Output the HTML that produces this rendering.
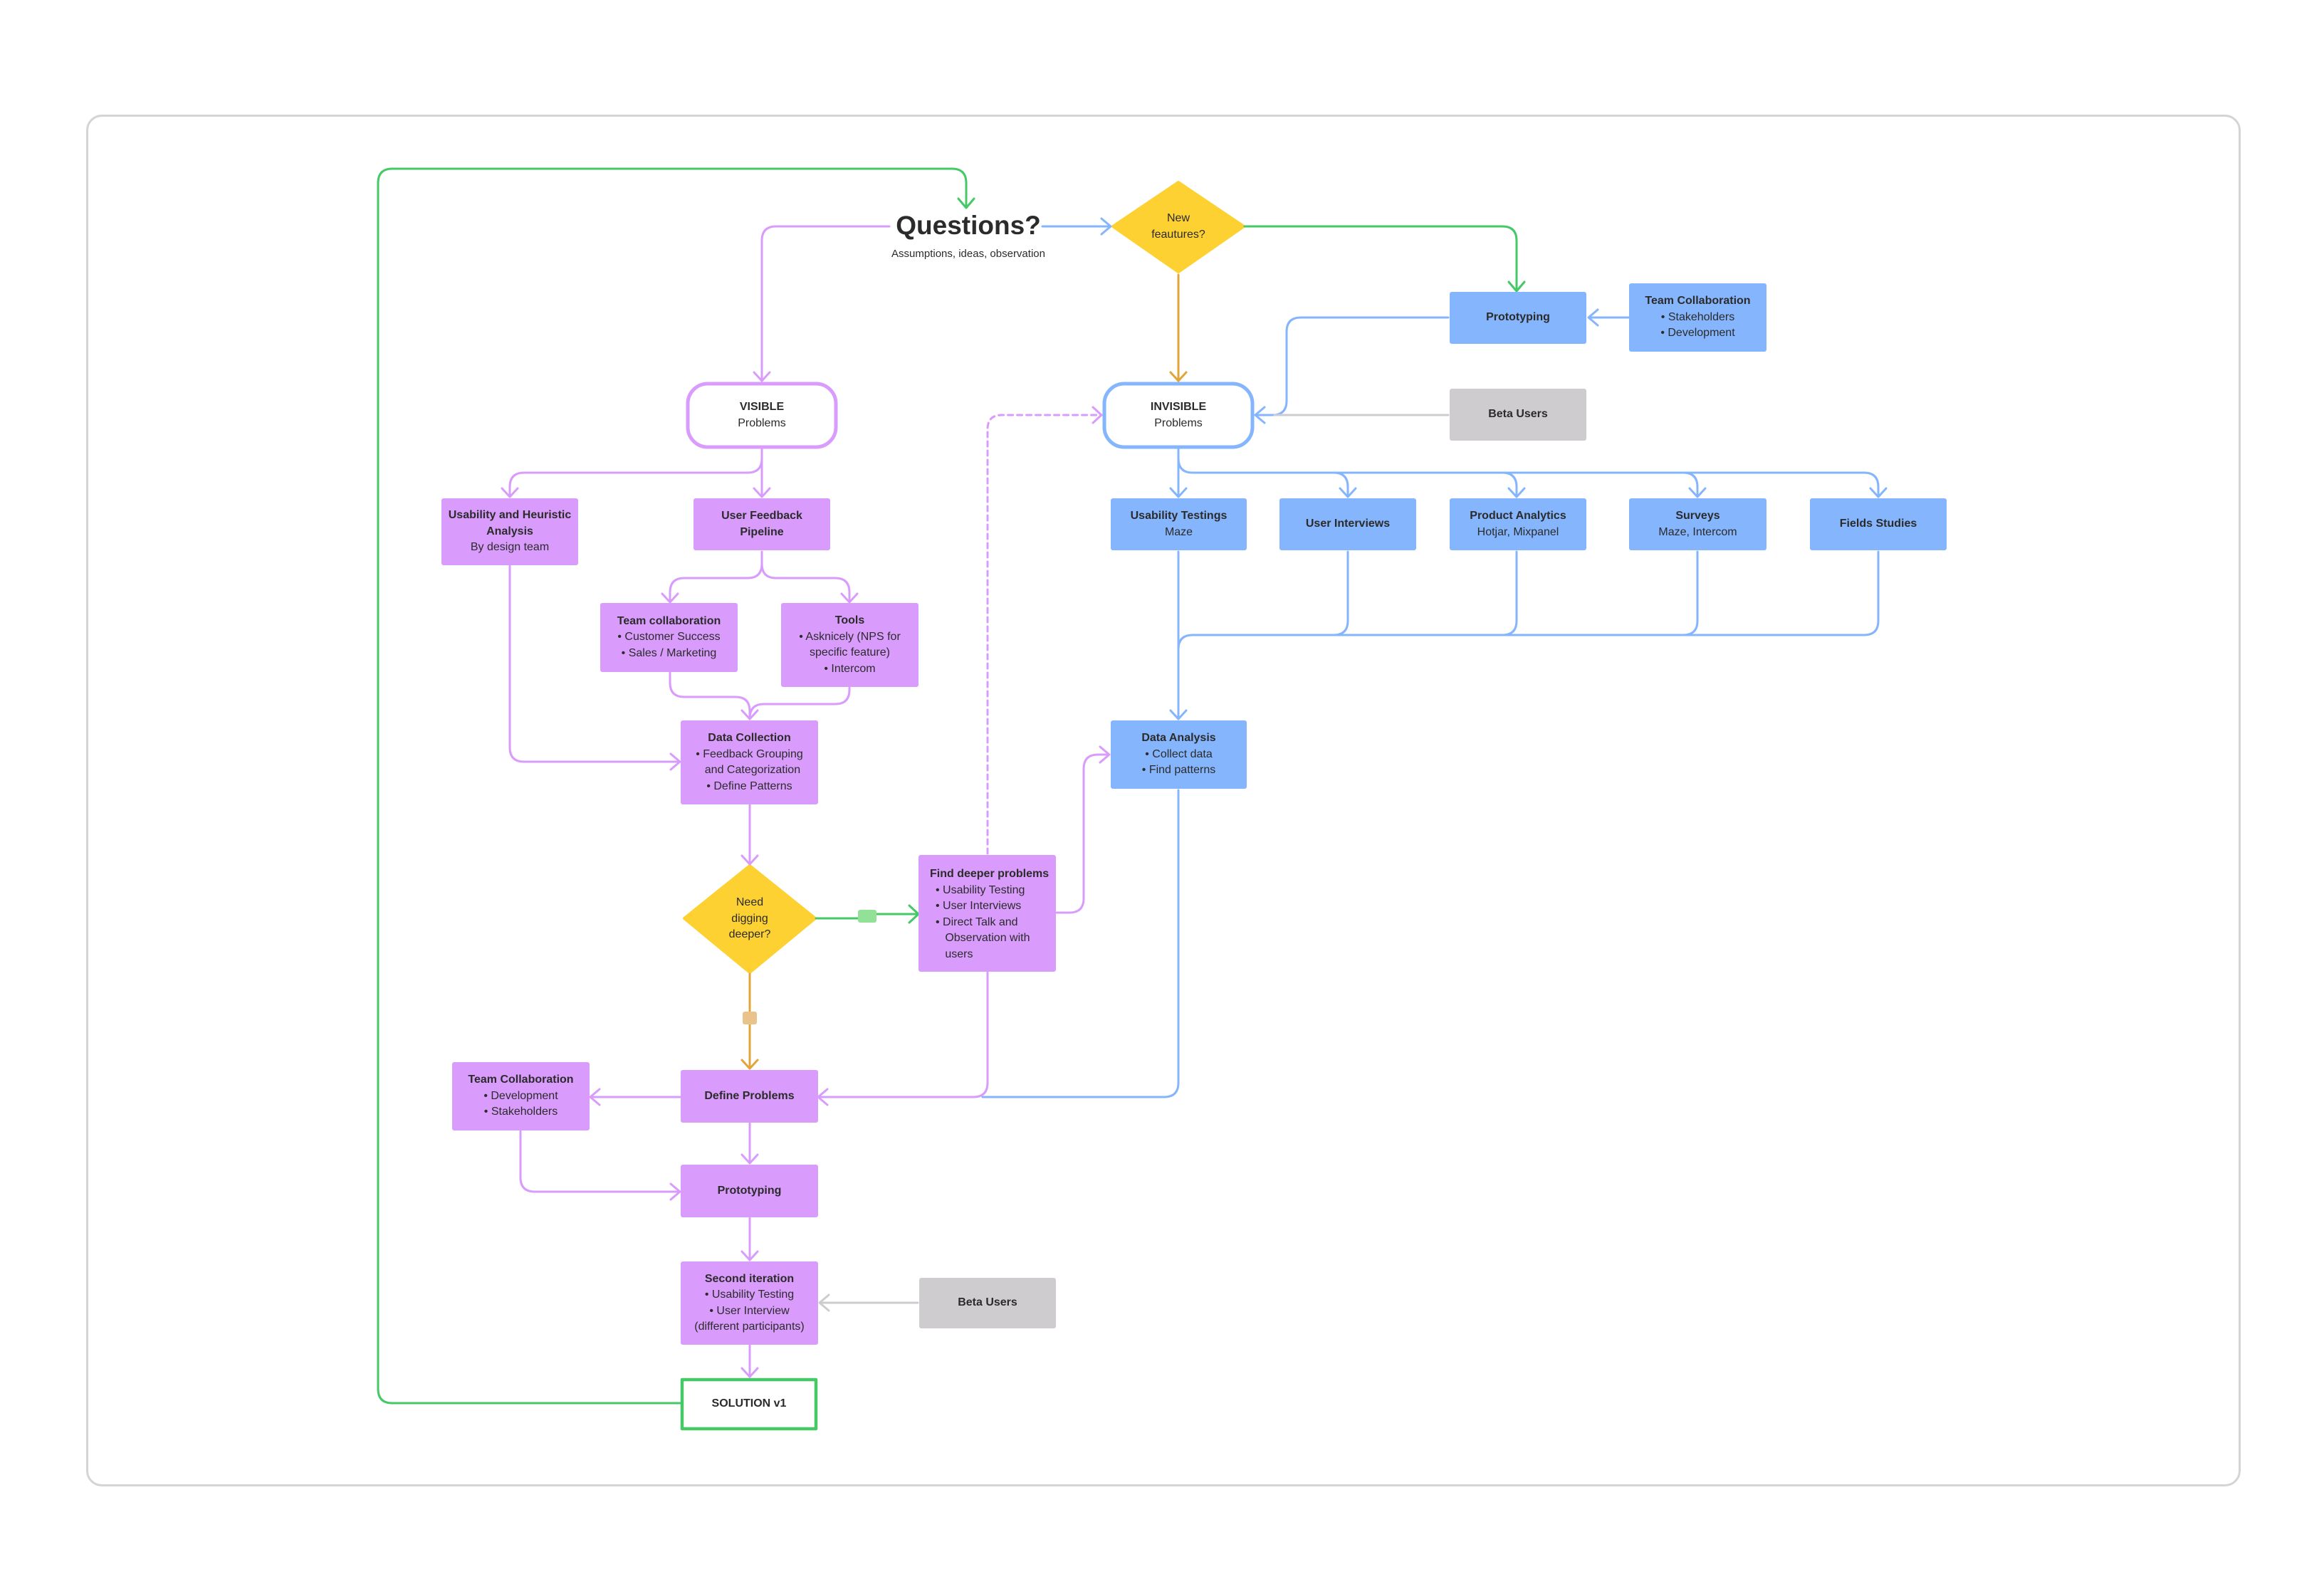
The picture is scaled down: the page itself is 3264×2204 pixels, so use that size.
<!DOCTYPE html>
<html><head><meta charset="utf-8">
<style>
html,body{margin:0;padding:0;background:#fff;}
body{width:3264px;height:2204px;position:relative;overflow:hidden;font-family:"Liberation Sans",sans-serif;color:#2b2b2b;}
.frame{position:absolute;left:121px;top:161px;width:3020px;height:1921px;border:3px solid #d4d4d6;border-radius:22px;}
svg{position:absolute;left:0;top:0;}
.b{position:absolute;display:flex;flex-direction:column;justify-content:center;align-items:center;text-align:center;font-size:16px;line-height:22.5px;border-radius:3px;box-sizing:border-box;}
.p{background:#d99cfc;}
.bl{background:#85b5fd;}
.g{background:#cfcccf;}
.b b{font-weight:bold;}
.lst{text-align:left;}
.q{position:absolute;font-weight:bold;font-size:37px;left:1180px;width:360px;text-align:center;top:296px;}
.qs{position:absolute;font-size:15px;left:1160px;width:400px;text-align:center;top:348px;}
.dtxt{position:absolute;text-align:center;font-size:16px;line-height:22.5px;}
</style></head><body>
<div class="frame"></div>
<svg width="3264" height="2204" viewBox="0 0 3264 2204" fill="none" stroke-width="3" stroke-linecap="round" stroke-linejoin="round">
<polygon points="1655,256 1747,318 1655,382 1563,318" fill="#fdd132" stroke="#fdd132" stroke-width="4"/>
<polygon points="1053,1216 1145,1290 1053,1366 961,1290" fill="#fdd132" stroke="#fdd132" stroke-width="4"/>
<rect x="966" y="539" width="208" height="89" rx="28" fill="#fff" stroke="#d99cfc" stroke-width="5"/>
<rect x="1551" y="539" width="208" height="89" rx="28" fill="#fff" stroke="#85b5fd" stroke-width="5"/>
<rect x="958" y="1938" width="188" height="69" fill="#fff" stroke="#45c866" stroke-width="4.5"/>

<g stroke="#45c866">
<path d="M956 1971 H551 Q531 1971 531 1951 V257 Q531 237 551 237 H1337 Q1357 237 1357 257 V290"/>
<path d="M1346 279 L1357 292 L1368 279"/>
<path d="M1748 318 H2110 Q2130 318 2130 338 V408"/>
<path d="M2119 396 L2130 409 L2141 396"/>
<path d="M1146 1290 H1218 M1218 1284 H1289"/>
<path d="M1277 1272 L1290 1284 L1277 1296"/>
</g>
<rect x="1205" y="1278" width="26" height="18" rx="3" fill="#93e197"/>
<g stroke="#e2a53a">
<path d="M1655 386 V535"/><path d="M1644 523 L1655 535 L1666 523"/>
<path d="M1053 1368 V1501"/><path d="M1042 1489 L1053 1501 L1064 1489"/>
</g>
<rect x="1043" y="1421" width="20" height="18" rx="3" fill="#eac38a"/>

<g stroke="#85b5fd">
<path d="M1464 318 H1559"/><path d="M1547 307 L1560 318 L1547 329"/>
<path d="M2288 446 H2232"/><path d="M2244 435 L2231 446 L2244 457"/>
<path d="M2034 446 H1827 Q1807 446 1807 466 V563 Q1807 583 1787 583 H1764"/>
<path d="M1776 572 L1763 583 L1776 594"/>
<path d="M1655 630 V697"/><path d="M1644 686 L1655 698 L1666 686"/>
<path d="M1655 644 Q1655 664 1675 664 H2618 Q2638 664 2638 684 V697"/>
<path d="M1873 664 Q1893 664 1893 684 V697 M2110 664 Q2130 664 2130 684 V697 M2364 664 Q2384 664 2384 684 V697"/>
<path d="M1882 686 L1893 698 L1904 686 M2119 686 L2130 698 L2141 686 M2373 686 L2384 698 L2395 686 M2627 686 L2638 698 L2649 686"/>
<path d="M1655 775 V1010"/><path d="M1644 998 L1655 1010 L1666 998"/>
<path d="M1893 775 V872 Q1893 892 1873 892 H1675 Q1655 892 1655 912"/>
<path d="M2130 775 V872 Q2130 892 2110 892 M2384 775 V872 Q2384 892 2364 892 M2638 775 V872 Q2638 892 2618 892 H1873"/>
<path d="M1655 1110 V1521 Q1655 1541 1635 1541 H1380"/>
</g>
<g stroke="#cfcccf">
<path d="M2034 583 H1790"/>
<path d="M1289 1830 H1152"/><path d="M1164 1819 L1151 1830 L1164 1841"/>
</g>

<g stroke="#d99cfc">
<path d="M1249 318 H1090 Q1070 318 1070 338 V535"/><path d="M1059 523 L1070 535 L1081 523"/>
<path d="M1070 630 V697"/><path d="M1059 686 L1070 698 L1081 686"/>
<path d="M1070 644 Q1070 664 1050 664 H736 Q716 664 716 684 V697"/><path d="M705 686 L716 698 L727 686"/>
<path d="M1070 775 V792 Q1070 812 1050 812 H961 Q941 812 941 832 V845"/><path d="M930 834 L941 846 L952 834"/>
<path d="M1070 792 Q1070 812 1090 812 H1173 Q1193 812 1193 832 V845"/><path d="M1182 834 L1193 846 L1204 834"/>
<path d="M941 945 V959 Q941 979 961 979 H1033 Q1053 979 1053 999 V1010"/>
<path d="M1193 966 V969 Q1193 989 1173 989 H1073 Q1053 989 1053 1009"/>
<path d="M1042 998 L1053 1010 L1064 998"/>
<path d="M716 795 V1050 Q716 1070 736 1070 H954"/><path d="M942 1059 L955 1070 L942 1081"/>
<path d="M1053 1130 V1214"/><path d="M1042 1202 L1053 1214 L1064 1202"/>
<path d="M1484 1282 H1502 Q1522 1282 1522 1262 V1080 Q1522 1060 1542 1060 H1557"/><path d="M1545 1049 L1558 1060 L1545 1071"/>
<path d="M1387 1366 V1521 Q1387 1541 1367 1541 H1150"/><path d="M1162 1530 L1149 1541 L1162 1552"/>
<path d="M956 1541 H830"/><path d="M842 1530 L829 1541 L842 1552"/>
<path d="M1053 1578 V1634"/><path d="M1042 1622 L1053 1634 L1064 1622"/>
<path d="M731 1589 V1654 Q731 1674 751 1674 H954"/><path d="M942 1663 L955 1674 L942 1685"/>
<path d="M1053 1711 V1770"/><path d="M1042 1758 L1053 1770 L1064 1758"/>
<path d="M1053 1890 V1934"/><path d="M1042 1922 L1053 1934 L1064 1922"/>
<path d="M1387 1199 V603 Q1387 583 1407 583 H1546" stroke-dasharray="7 6"/><path d="M1535 572 L1547 583 L1535 594"/>
</g>
</svg>

<div class="q">Questions?</div>
<div class="qs">Assumptions, ideas, observation</div>
<div class="dtxt" style="left:1595px;top:296px;width:120px;">New<br>feautures?</div>
<div class="dtxt" style="left:993px;top:1257px;width:120px;">Need<br>digging<br>deeper?</div>

<div class="b" style="left:966px;top:539px;width:208px;height:89px;"><b>VISIBLE</b><span>Problems</span></div>
<div class="b" style="left:1551px;top:539px;width:208px;height:89px;"><b>INVISIBLE</b><span>Problems</span></div>

<div class="b bl" style="left:2036px;top:410px;width:192px;height:73px;"><b>Prototyping</b></div>
<div class="b bl" style="left:2288px;top:398px;width:193px;height:96px;"><b>Team Collaboration</b><span>• Stakeholders</span><span>• Development</span></div>
<div class="b g" style="left:2036px;top:546px;width:192px;height:73px;"><b>Beta Users</b></div>

<div class="b bl" style="left:1560px;top:700px;width:191px;height:73px;"><b>Usability Testings</b><span>Maze</span></div>
<div class="b bl" style="left:1797px;top:700px;width:192px;height:73px;"><b>User Interviews</b></div>
<div class="b bl" style="left:2036px;top:700px;width:192px;height:73px;"><b>Product Analytics</b><span>Hotjar, Mixpanel</span></div>
<div class="b bl" style="left:2288px;top:700px;width:193px;height:73px;"><b>Surveys</b><span>Maze, Intercom</span></div>
<div class="b bl" style="left:2542px;top:700px;width:192px;height:73px;"><b>Fields Studies</b></div>
<div class="b bl" style="left:1560px;top:1012px;width:191px;height:96px;"><b>Data Analysis</b><span>• Collect data</span><span>• Find patterns</span></div>

<div class="b p" style="left:620px;top:700px;width:192px;height:94px;"><b>Usability and Heuristic</b><b>Analysis</b><span>By design team</span></div>
<div class="b p" style="left:974px;top:700px;width:192px;height:73px;"><b>User Feedback</b><b>Pipeline</b></div>
<div class="b p" style="left:843px;top:847px;width:193px;height:97px;"><b>Team collaboration</b><span>• Customer Success</span><span>• Sales / Marketing</span></div>
<div class="b p" style="left:1097px;top:847px;width:193px;height:118px;"><b>Tools</b><span>• Asknicely (NPS for</span><span>specific feature)</span><span>• Intercom</span></div>
<div class="b p" style="left:956px;top:1012px;width:193px;height:118px;"><b>Data Collection</b><span>• Feedback Grouping</span><span>&nbsp;&nbsp;and Categorization</span><span>• Define Patterns</span></div>
<div class="b p" style="left:1290px;top:1201px;width:193px;height:164px;align-items:flex-start;padding-left:16px;justify-content:flex-start;padding-top:16px;"><b>Find deeper problems</b><div class="lst" style="padding-left:8px;">• Usability Testing<br>• User Interviews<br>• Direct Talk and<br>&nbsp;&nbsp;&nbsp;Observation with<br>&nbsp;&nbsp;&nbsp;users</div></div>
<div class="b p" style="left:956px;top:1503px;width:193px;height:74px;"><b>Define Problems</b></div>
<div class="b p" style="left:635px;top:1492px;width:193px;height:96px;"><b>Team Collaboration</b><span>• Development</span><span>• Stakeholders</span></div>
<div class="b p" style="left:956px;top:1636px;width:193px;height:74px;"><b>Prototyping</b></div>
<div class="b p" style="left:956px;top:1772px;width:193px;height:117px;"><b>Second iteration</b><span>• Usability Testing</span><span>• User Interview</span><span>(different participants)</span></div>
<div class="b g" style="left:1291px;top:1795px;width:192px;height:71px;"><b>Beta Users</b></div>
<div class="b" style="left:958px;top:1938px;width:188px;height:69px;"><b>SOLUTION v1</b></div>
</body></html>
